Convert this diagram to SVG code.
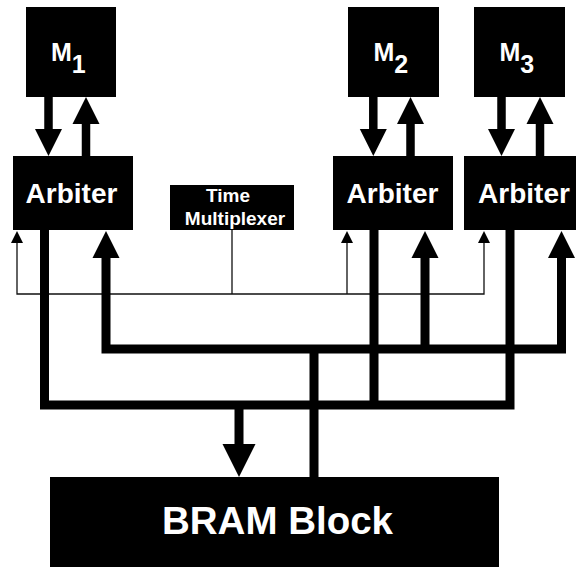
<svg xmlns="http://www.w3.org/2000/svg" xmlns:xlink="http://www.w3.org/1999/xlink" width="576" height="567" viewBox="0 0 576 567">
<style>
.box{fill:#000;}
.lbl{fill:#fff;font-family:"Liberation Sans",Arial,sans-serif;font-weight:bold;}
.thick{fill:none;stroke:#000;stroke-width:8.5;stroke-linejoin:miter;}
.bus{fill:none;stroke:#000;stroke-width:9;stroke-linejoin:miter;}
.thin{fill:none;stroke:#111;stroke-width:1.3;}
.head{fill:#000;}
</style>
<defs>
<polygon id="hu" points="0,0 13.5,27 -13.5,27"/>
<polygon id="hd" points="0,0 -13.5,-27 13.5,-27"/>
<polygon id="hs" points="0,0 6,12 -6,12"/>
<polygon id="hb" points="0,0 -16.5,-33 16.5,-33"/>
</defs>
<rect width="576" height="567" fill="#fff"/>

<g id="M1"><rect class="box" x="26" y="7" width="90" height="90"/><text class="lbl" x="51" y="61" font-size="25">M<tspan dy="12">1</tspan></text></g>
<g id="M2"><rect class="box" x="348" y="7" width="91" height="90"/><text class="lbl" x="373.5" y="61" font-size="25">M<tspan dy="12">2</tspan></text></g>
<g id="M3"><rect class="box" x="474" y="7" width="91" height="90"/><text class="lbl" x="499.5" y="61" font-size="25">M<tspan dy="12">3</tspan></text></g>

<g id="Arbiter1"><rect class="box" x="13" y="156" width="120" height="74"/><text class="lbl" x="71.5" y="203" font-size="28" text-anchor="middle">Arbiter</text></g>
<g id="Arbiter2"><rect class="box" x="333" y="156" width="120" height="74"/><text class="lbl" x="392.5" y="203" font-size="28" text-anchor="middle">Arbiter</text></g>
<g id="Arbiter3"><rect class="box" x="464" y="156" width="114" height="74"/><text class="lbl" x="524" y="203" font-size="28" text-anchor="middle">Arbiter</text></g>

<g id="TimeMultiplexer"><rect class="box" x="170" y="185" width="124" height="45"/><text class="lbl" font-size="19"><tspan x="206" y="202">Time</tspan><tspan x="235" y="225" text-anchor="middle">Multiplexer</tspan></text></g>

<g id="BRAM"><rect class="box" x="50" y="477" width="449" height="95"/><text class="lbl" x="277.5" y="534" font-size="38.5" text-anchor="middle">BRAM Block</text></g>

<g id="connectors">
<!-- M to Arbiter -->
<path class="thick" d="M48.5,97V131 M86,122V156 M373.3,97V131 M410.5,122V156 M501.5,97V131 M540,122V156"/>
<use href="#hd" x="48.5" y="156" class="head"/>
<use href="#hu" x="86" y="97" class="head"/>
<use href="#hd" x="373.3" y="156" class="head"/>
<use href="#hu" x="410.5" y="97" class="head"/>
<use href="#hd" x="501.5" y="156" class="head"/>
<use href="#hu" x="540" y="97" class="head"/>
<!-- time multiplexer control -->
<path class="thin" d="M17,242V294H484V242 M347,242V294 M232,230V294"/>
<use href="#hs" x="17" y="231" class="head"/>
<use href="#hs" x="347" y="231" class="head"/>
<use href="#hs" x="484" y="231" class="head"/>
<!-- read bus (from BRAM to arbiters) -->
<path class="bus" d="M106,256V349H561.5V256 M425,256V349 M314,349V477"/>
<use href="#hu" x="106" y="231" class="head"/>
<use href="#hu" x="425" y="231" class="head"/>
<use href="#hu" x="561.5" y="231" class="head"/>
<!-- write bus (arbiters to BRAM) -->
<path class="bus" d="M44.5,230V405H510V230 M374,230V405 M239,405V446"/>
<use href="#hb" x="239" y="477" class="head"/>
</g>
</svg>
